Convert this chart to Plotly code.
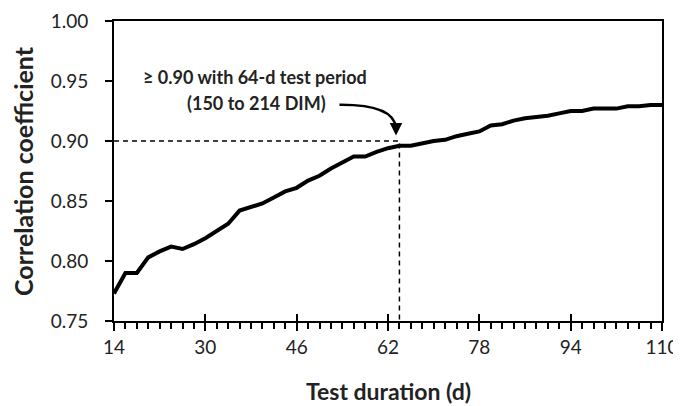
import plotly.graph_objects as go

days = list(range(14, 111, 2))
corr = [0.773, 0.790, 0.790, 0.803, 0.808, 0.812, 0.810, 0.814, 0.819, 0.825,
        0.831, 0.842, 0.845, 0.848, 0.853, 0.858, 0.861, 0.867, 0.871, 0.877,
        0.882, 0.887, 0.887, 0.891, 0.894, 0.896, 0.896, 0.898, 0.900, 0.901,
        0.904, 0.906, 0.908, 0.913, 0.914, 0.917, 0.919, 0.920, 0.921, 0.923,
        0.925, 0.925, 0.927, 0.927, 0.927, 0.929, 0.929, 0.930, 0.930]

x_ticks = [14, 30, 46, 62, 78, 94, 110]
y_ticks = [0.75, 0.80, 0.85, 0.90, 0.95, 1.00]
threshold_day = 64
threshold_corr = 0.90

font_main = "Lato"
txt = "#222"

fig = go.Figure()

# dashed reference lines
fig.add_trace(go.Scatter(x=[14, threshold_day, threshold_day],
                         y=[threshold_corr, threshold_corr, 0.75],
                         mode="lines", line=dict(color="black", width=1.5, dash="5px,4px"),
                         hoverinfo="skip", showlegend=False))

fig.add_trace(go.Scatter(x=days, y=corr, mode="lines",
                         line=dict(color="black", width=4),
                         showlegend=False))

# invisible trace for the overlay axis carrying inside major ticks
fig.add_trace(go.Scatter(x=[14, 110], y=[0.75, 0.75], xaxis="x2", mode="lines",
                         line=dict(width=0), hoverinfo="skip", showlegend=False))

# curved arrow shaft
fig.add_shape(type="path",
              path="M 53.5,0.9302 Q 63.0,0.9305 63.4,0.9110",
              line=dict(color="black", width=2.5), xref="x", yref="y")
fig.add_annotation(x=63.4, y=0.9045, ax=63.4, ay=0.9115, axref="x", ayref="y",
                   xref="x", yref="y", text="", showarrow=True,
                   arrowhead=2, arrowsize=1.0, arrowwidth=2.5, arrowcolor="black")

fig.add_annotation(x=38.7, y=0.953, xref="x", yref="y",
                   text="<b>≥ 0.90 with 64-d test period</b>",
                   showarrow=False, font=dict(family=font_main, size=18, color=txt))
fig.add_annotation(x=38.9, y=0.9318, xref="x", yref="y",
                   text="<b>(150 to 214 DIM)</b>",
                   showarrow=False, font=dict(family=font_main, size=18, color=txt))

# axis titles
fig.add_annotation(x=0.5, y=0, xref="paper", yref="paper", yshift=-70,
                   yanchor="middle", xanchor="center", showarrow=False,
                   text="<b>Test duration (d)</b>",
                   font=dict(family=font_main, size=23, color=txt))
fig.add_annotation(x=0, y=0.5, xref="paper", yref="paper", xshift=-91,
                   yanchor="middle", xanchor="center", showarrow=False,
                   textangle=-90, text="<b>Correlation coefficient</b>",
                   font=dict(family=font_main, size=25, color=txt))

fig.update_xaxes(range=[14, 110], tickvals=x_ticks, ticks="outside", ticklen=8,
                 tickwidth=2, tickcolor="black", showline=True, linecolor="black",
                 linewidth=2, mirror=True, showgrid=False, zeroline=False,
                 automargin=False,
                 minor=dict(dtick=2, ticks="outside", ticklen=6, tickwidth=2,
                            tickcolor="black", showgrid=False),
                 tickfont=dict(family=font_main, size=19, color=txt))
fig.update_yaxes(range=[0.75, 1.00], tickvals=y_ticks, tickformat=".2f",
                 ticks="outside", ticklen=7, tickwidth=2, tickcolor="black",
                 showline=True, linecolor="black", linewidth=2, mirror=True,
                 showgrid=False, zeroline=False, automargin=False,
                 ticklabelstandoff=13,
                 tickfont=dict(family=font_main, size=19, color=txt))

fig.update_layout(width=673, height=398, plot_bgcolor="white", paper_bgcolor="white",
                  margin=dict(l=106, r=19, t=13, b=85),
                  xaxis2=dict(overlaying="x", side="bottom", range=[14, 110],
                              tickvals=x_ticks, ticks="inside", ticklen=7,
                              tickwidth=2, tickcolor="black", showticklabels=False,
                              showline=False, showgrid=False, zeroline=False,
                              automargin=False))

fig.write_html("out.html")
